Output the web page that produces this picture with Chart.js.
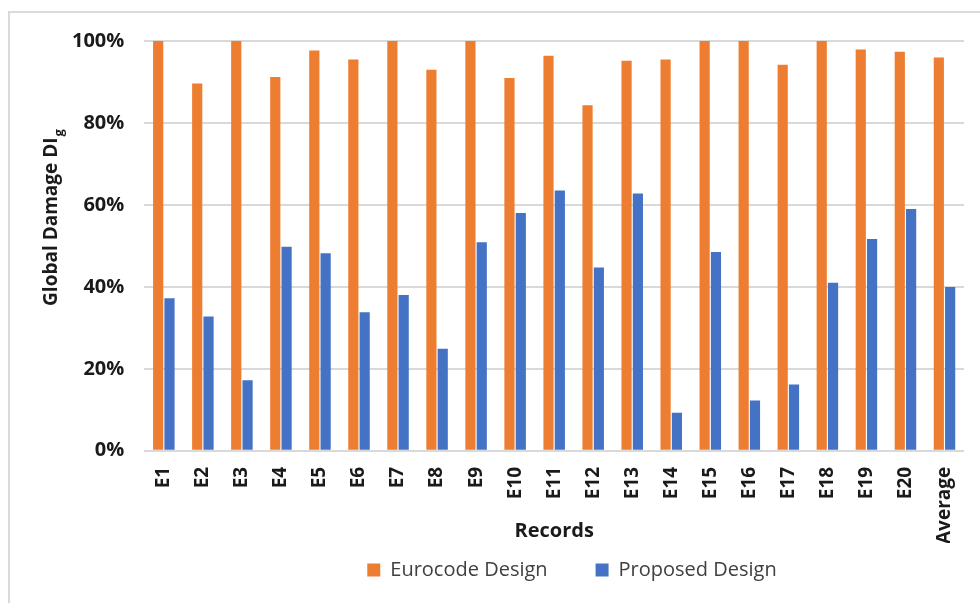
<!DOCTYPE html>
<html>
<head>
<meta charset="utf-8">
<script src="https://cdn.jsdelivr.net/npm/chart.js@4"></script>
<style>
  html, body { margin: 0; padding: 0; background: #fff; }
  #wrap { position: relative; width: 980px; height: 603px; }
  #frame { position: absolute; left: 8px; top: 11px; right: -4px; bottom: -4px;
           border-left: 2px solid #d9d9d9; border-top: 2px solid #d9d9d9; }
  canvas { position: absolute; left: 0; top: 0; }
</style>
</head>
<body>
<div id="wrap">
  <div id="frame"></div>
  <canvas id="chart" width="980" height="603"></canvas>
</div>
<script>
// records on the x axis
const records = ['E1','E2','E3','E4','E5','E6','E7','E8','E9','E10',
  'E11','E12','E13','E14','E15','E16','E17','E18','E19','E20','Average'];

// global damage index, in percent
const eurocode = [100, 89.6, 100, 91.2, 97.7, 95.5, 100, 93.0, 100, 91.0,
  96.4, 84.3, 95.2, 95.5, 100, 100, 94.2, 100, 97.9, 97.4, 96.0];
const proposed = [37.2, 32.8, 17.2, 49.8, 48.2, 33.8, 38.0, 24.9, 50.9, 58.0,
  63.5, 44.7, 62.8, 9.3, 48.5, 12.3, 16.2, 41.0, 51.7, 59.0, 40.0];

const yTicks = [0, 20, 40, 60, 80, 100];

const FONT = "'Open Sans', 'Noto Sans', sans-serif";

// y title with the subscript g on DI
const yTitle = {
  id: 'yTitle',
  afterDraw(chart) {
    const ctx = chart.ctx;
    const main = 'Global Damage DI';
    ctx.save();
    ctx.translate(52, 218);
    ctx.rotate(-Math.PI / 2);
    ctx.fillStyle = '#1a1a1a';
    ctx.textBaseline = 'middle';
    ctx.textAlign = 'left';
    ctx.font = 'bold 19px ' + FONT;
    const w1 = ctx.measureText(main).width;
    ctx.font = 'bold 13px ' + FONT;
    const w2 = ctx.measureText('g').width;
    const x0 = -(w1 + w2) / 2;
    ctx.font = 'bold 19px ' + FONT;
    ctx.fillText(main, x0, 0);
    ctx.font = 'bold 13px ' + FONT;
    ctx.fillText('g', x0 + w1 + 1, 7);
    ctx.restore();
  }
};

// move the legend to where the original puts it
const legendPlace = {
  id: 'legendPlace',
  afterLayout(chart) {
    const lg = chart.legend;
    const dx = 572 - (lg.left + lg.right) / 2;
    lg.left += dx;
    lg.right += dx;
    const h = lg.bottom - lg.top;
    lg.top = 512;
    lg.bottom = 512 + h;
  }
};

new Chart(document.getElementById('chart'), {
  type: 'bar',
  data: {
    labels: records,
    datasets: [
      {
        label: 'Eurocode Design',
        data: eurocode,
        backgroundColor: '#ED7D31',
        barPercentage: 0.9,
        categoryPercentage: 0.58
      },
      {
        label: 'Proposed Design',
        data: proposed,
        backgroundColor: '#4472C4',
        barPercentage: 0.9,
        categoryPercentage: 0.58
      }
    ]
  },
  options: {
    responsive: false,
    animation: false,
    layout: { padding: { left: 52, right: 16, top: 41, bottom: -18 } },
    plugins: {
      tooltip: { enabled: false },
      legend: {
        position: 'bottom',
        labels: {
          boxWidth: 13,
          boxHeight: 13,
          padding: 48,
          color: '#404040',
          font: { family: FONT, size: 20 }
        }
      }
    },
    scales: {
      x: {
        grid: { display: false },
        border: { display: false },
        ticks: {
          maxRotation: 90,
          minRotation: 90,
          padding: 8,
          color: '#1a1a1a',
          font: { family: FONT, size: 19, weight: 'bold' }
        },
        title: {
          display: true,
          text: 'Records',
          color: '#1a1a1a',
          padding: { top: -33, bottom: 0 },
          font: { family: FONT, size: 20, weight: 'bold' }
        }
      },
      y: {
        min: 0,
        max: 100,
        afterBuildTicks(axis) {
          axis.ticks = yTicks.map(v => ({ value: v }));
        },
        grid: { color: '#d9d9d9', lineWidth: 2, drawTicks: false },
        border: { display: false },
        ticks: {
          padding: 20,
          color: '#1a1a1a',
          font: { family: FONT, size: 20, weight: 'bold' },
          callback: v => v + '%'
        }
      }
    }
  },
  plugins: [yTitle, legendPlace]
});
</script>
</body>
</html>
